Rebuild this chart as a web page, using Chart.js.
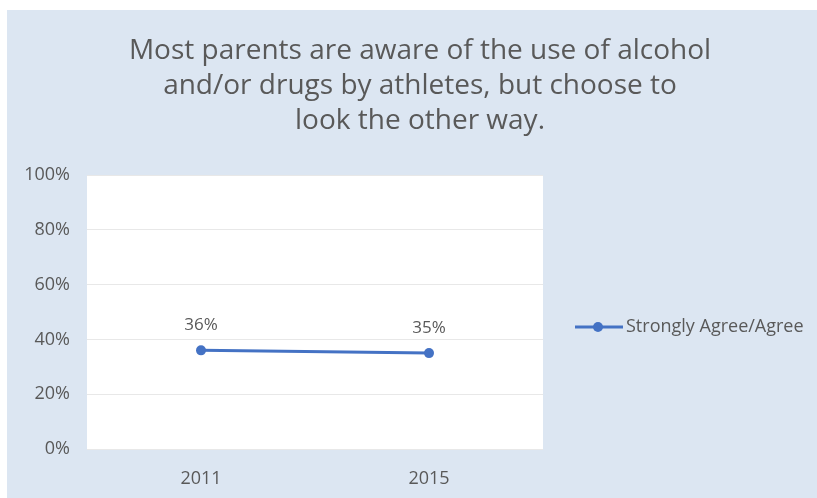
<!DOCTYPE html>
<html lang="en">
<head>
    <meta charset="UTF-8" />
    <title>Parents Aware of Alcohol/Drug Use</title>
    <script src="https://cdn.jsdelivr.net/npm/chart.js"></script>
    <style>
        html, body { margin: 0; padding: 0; background: #fff; }
        #chart-box { position: absolute; left: 7px; top: 10px; width: 810px; height: 488px; background: #dce6f2; }
    </style>
</head>
<body>
    <div id="chart-box">
        <canvas id="surveyChart" width="810" height="488"></canvas>
    </div>

    <script>
        const years = ['2011', '2015'];
        const agreeValues = [36, 35];
        const seriesName = 'Strongly Agree/Agree';
        const titleLines = [
            'Most parents are aware of the use of alcohol',
            'and/or drugs by athletes, but choose to',
            'look the other way.'
        ];

        const textColor = '#595959';
        const lineColor = '#4472c4';
        const fontName = '"Open Sans", Lato, sans-serif';

        // white plot background, title, value labels and legend
        const decorations = {
            id: 'decorations',
            beforeDraw(chart) {
                const { ctx, chartArea } = chart;
                ctx.save();
                ctx.fillStyle = '#ffffff';
                ctx.fillRect(chartArea.left, chartArea.top, chartArea.right - chartArea.left, chartArea.bottom - chartArea.top);
                ctx.restore();
            },
            afterDraw(chart) {
                const { ctx } = chart;
                ctx.save();
                ctx.fillStyle = textColor;
                ctx.textAlign = 'center';
                ctx.textBaseline = 'middle';
                ctx.font = '28px ' + fontName;
                titleLines.forEach((line, i) => ctx.fillText(line, 413, 41 + i * 35));

                // value labels above each point
                ctx.font = '17px ' + fontName;
                const meta = chart.getDatasetMeta(0);
                meta.data.forEach((pt, i) => {
                    ctx.fillText(agreeValues[i] + '%', pt.x, pt.y - 25);
                });

                // legend
                const ly = 317;
                ctx.strokeStyle = lineColor;
                ctx.lineWidth = 3;
                ctx.beginPath();
                ctx.moveTo(568, ly);
                ctx.lineTo(616, ly);
                ctx.stroke();
                ctx.fillStyle = lineColor;
                ctx.beginPath();
                ctx.arc(591, ly, 5, 0, Math.PI * 2);
                ctx.fill();
                ctx.fillStyle = textColor;
                ctx.textAlign = 'left';
                ctx.font = '18px ' + fontName;
                ctx.fillText(seriesName, 619, ly);
                ctx.restore();
            }
        };

        new Chart(document.getElementById('surveyChart'), {
            type: 'line',
            data: {
                labels: years,
                datasets: [{
                    label: seriesName,
                    data: agreeValues,
                    borderColor: lineColor,
                    backgroundColor: lineColor,
                    borderWidth: 3,
                    pointRadius: 5,
                    pointBackgroundColor: lineColor,
                    pointBorderWidth: 0
                }]
            },
            options: {
                responsive: false,
                animation: false,
                layout: { padding: { top: 165, right: 274, left: 0, bottom: 0 } },
                plugins: {
                    legend: { display: false },
                    title: { display: false },
                    tooltip: { enabled: false }
                },
                scales: {
                    x: {
                        offset: true,
                        grid: { display: false },
                        border: { display: false },
                        ticks: { color: textColor, font: { family: fontName, size: 18 }, padding: 11 },
                        afterFit(scale) { scale.height = 49; }
                    },
                    y: {
                        min: 0,
                        max: 100,
                        grid: { color: '#e8e8e8', lineWidth: 1, drawTicks: false },
                        border: { display: false },
                        ticks: {
                            stepSize: 20,
                            color: textColor,
                            font: { family: fontName, size: 18 },
                            padding: 17,
                            callback: v => v + '%'
                        },
                        afterFit(scale) { scale.width = 80; }
                    }
                }
            },
            plugins: [decorations]
        });
    </script>
</body>
</html>
